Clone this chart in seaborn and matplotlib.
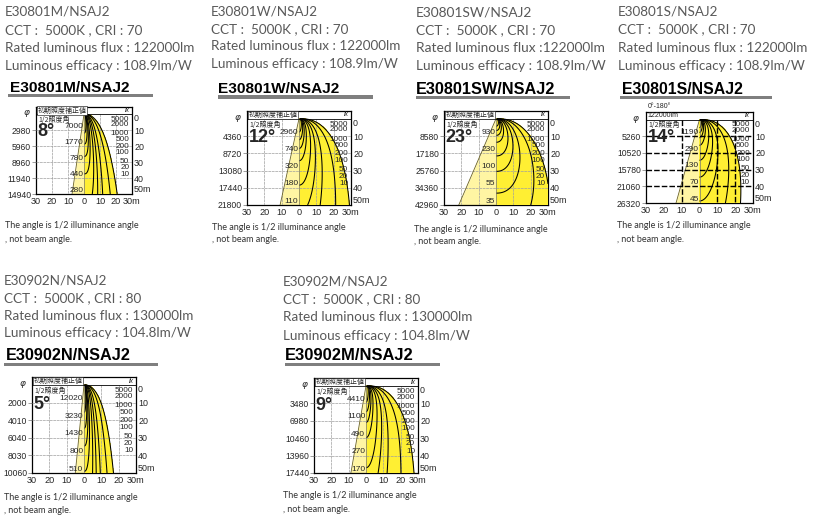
import numpy as np
import pandas as pd
import seaborn as sns
import matplotlib
matplotlib.use("Agg")
import matplotlib.pyplot as plt

# ---------------- data ----------------
models = ["E30801M/NSAJ2", "E30801W/NSAJ2", "E30801SW/NSAJ2",
          "E30801S/NSAJ2", "E30902N/NSAJ2", "E30902M/NSAJ2"]
cct_lines = ["CCT :  5000K , CRI : 70"] * 4 + ["CCT :  5000K , CRI : 80"] * 2
flux_lines = ["Rated luminous flux : 122000lm", "Rated luminous flux : 122000lm",
              "Rated luminous flux :122000lm", "Rated luminous flux : 122000lm",
              "Rated luminous flux : 130000lm", "Rated luminous flux : 130000lm"]
efficacy_lines = ["Luminous efficacy : 108.9lm/W"] * 4 + ["Luminous efficacy : 104.8lm/W"] * 2
note_lines = ["The angle is 1/2 illuminance angle", ", not beam angle."]

half_angles = [8, 12, 23, 14, 5, 9]            # 1/2 illuminance angle (deg)
depths = [10, 20, 30, 40, 50]                   # m
diam_801M = [2980, 5960, 8960, 11940, 14940]    # mm
diam_801W = [4360, 8720, 13080, 17440, 21800]
diam_801SW = [8580, 17180, 25760, 34360, 42960]
diam_801S = [5260, 10520, 15780, 21060, 26320]
diam_902N = [2000, 4010, 6040, 8030, 10060]
diam_902M = [3480, 6980, 10460, 13960, 17440]
center_801M = [7000, 1770, 780, 440, 280]       # lx on axis
center_801W = [2960, 740, 320, 180, 110]
center_801SW = [930, 230, 100, 55, 35]
center_801S = [1190, 290, 130, 70, 45]
center_902N = [12020, 3230, 1430, 800, 510]
center_902M = [4410, 1100, 490, 270, 170]
lux_levels = [5000, 2000, 1000, 500, 200, 100, 50, 20, 10]
beam_falloff = [3.0, 2.2, 2.6, 2.0, 2.8, 2.1]   # estimated sharpness of beam edge
header_texts = ["初期照度補正値"] * 3 + ["122000lm"] + ["初期照度補正値"] * 2
x_ticks = [-30, -20, -10, 0, 10, 20, 30]
x_ticklabels = ["30", "20", "10", "0", "10", "20", "30m"]
right_ticks = [0, 10, 20, 30, 40, 50]
right_ticklabels = ["0", "10", "20", "30", "40", "50m"]

diams = [diam_801M, diam_801W, diam_801SW, diam_801S, diam_902N, diam_902M]
centers = [center_801M, center_801W, center_801SW, center_801S, center_902N, center_902M]

# ---------------- style ----------------
sns.set_theme(style="white")
plt.rcParams["font.family"] = ["Lato", "DejaVu Sans"]
CJK = ["Noto Sans CJK JP", "DejaVu Sans"]
NUM = ["Liberation Sans", "DejaVu Sans"]

BRIGHT = "#FFEF33"
PALE = "#FFF5A3"
TXT_GRAY = "#595959"
GRID = "#A0A0A0"

W, H = 815, 531
fig = plt.figure(figsize=(W / 100, H / 100), dpi=100)
fig.patch.set_facecolor("white")
renderer = fig.canvas.get_renderer()


def fbox(l, t, r, b):
    return [l / W, 1 - b / H, (r - l) / W, (b - t) / H]


def fitted_size(s, width, size0=9, **kw):
    t = fig.text(0, 0, s, fontsize=size0, **kw)
    bbw = t.get_window_extent(renderer).width
    t.remove()
    return size0 * width / bbw


# layout per panel (pixels)
text_x = [5, 211, 416, 618, 4, 283]
text_base = [[16, 34, 52, 69.5], [15, 33, 50.5, 68.5], [16.5, 34.5, 52.5, 70],
             [16, 33.5, 51.5, 69.5], [284.5, 302, 319.5, 337], [286, 303.5, 321, 339.5]]
head_x = [10, 218, 416, 622, 6, 285]
head_base = [92, 93, 94, 94.5, 359.5, 360.5]
head_w = [120, 121, 139, 121, 124, 128]
bar = [(8, 153, 95.5), (218, 373, 97), (416, 570, 97.5), (620, 772, 97.5),
       (4, 158, 364.5), (285, 440, 364.5)]
note_x = [5, 212, 414, 617, 4, 283]
note_base = [228.5, 229.5, 231.5, 228.5, 500, 498.5]
boxes = [(36, 107, 132, 194), (247, 111, 351, 205), (444, 111, 548, 205),
         (646, 112, 753, 203), (32, 377, 136, 473), (314, 378, 418, 473)]
lx_label_y = [3.1, 6.5, 11.9, 15.6, 20.4, 24.2, 29.4, 33.3, 37.5]

for i in range(6):
    # ---- spec text ----
    lines = [models[i], cct_lines[i], flux_lines[i], efficacy_lines[i]]
    fs = fitted_size(flux_lines[i], 190)
    for s, yb in zip(lines, text_base[i]):
        fig.text(text_x[i] / W, 1 - yb / H, s, fontsize=fs, va="baseline",
                 color=TXT_GRAY)
    hfs = fitted_size(models[i], head_w[i], 10, family=["Liberation Sans"], weight="bold")
    fig.text(head_x[i] / W, 1 - head_base[i] / H, models[i], fontsize=hfs,
             family=["Liberation Sans"], weight="bold", color="black", va="baseline")
    x0, x1, yb = bar[i]
    fig.patches.append(plt.Rectangle((x0 / W, 1 - (yb + 1.6) / H), (x1 - x0) / W, 3.2 / H,
                                     transform=fig.transFigure, color="#7F7F7F", lw=0))
    nfs = fitted_size(note_lines[0], 134, 7)
    fig.text(note_x[i] / W, 1 - note_base[i] / H, note_lines[0], fontsize=nfs,
             va="baseline", color="#333333")
    fig.text(note_x[i] / W, 1 - (note_base[i] + 13) / H, note_lines[1], fontsize=nfs,
             va="baseline", color="#333333")

    # ---- chart ----
    ax = fig.add_axes(fbox(*boxes[i]))
    ax.set_xlim(-30, 30)
    ax.set_ylim(50, -4.5)
    ax.set_facecolor("white")
    for sp in ax.spines.values():
        sp.set_color("black")
        sp.set_linewidth(0.9)
        sp.set_visible(True)

    bold_grid = header_texts[i] != "初期照度補正値"

    diam = diams[i]
    rad = np.array([0.0] + [d / 2000.0 for d in diam])
    dep = np.array([0.0] + depths, dtype=float)
    ax.fill_betweenx(dep, -rad, 0, color=PALE, lw=0, zorder=2)

    # isolux field from axial illuminance and 1/2 illuminance angle
    xs = np.linspace(0, 30, 301)
    ys = np.linspace(0.02, 50, 501)
    X, Y = np.meshgrid(xs, ys)
    th = np.degrees(np.arctan2(X, Y))
    th_h = half_angles[i]
    p = beam_falloff[i]
    c3h = np.cos(np.radians(th_h)) ** 3
    a = th_h / (2 * c3h - 1) ** (1 / p)
    G = 1.0 / (1.0 + (th / a) ** p)
    E = centers[i][0] * (depths[0] / Y) ** 2 * np.cos(np.radians(th)) ** 3 * G
    ax.contourf(X, Y, E, levels=[min(lux_levels), E.max() * 2], colors=[BRIGHT], zorder=3)

    if bold_grid:
        ax.hlines(depths[:-1], -30, 30, colors="black", linestyles=(0, (4, 1.5)), lw=1.0, zorder=5)
        ax.vlines([-10, 10, 20], 0, 50, colors="black", linestyles=(0, (4, 1.5)), lw=1.0, zorder=5)
    else:
        ax.hlines(depths[:-1], -30, 30, colors=GRID, linestyles=(0, (4, 1)), lw=0.5, zorder=3.5)
        ax.vlines([-20, -10, 10, 20], 0, 50, colors=GRID, linestyles=(0, (4, 1)), lw=0.5, zorder=3.5)

    ax.contour(X, Y, E, levels=sorted(lux_levels), colors="black", linewidths=0.75, zorder=4)
    sns.lineplot(x=-rad, y=dep, sort=False, color="#6b6220", lw=0.6, ax=ax,
                 legend=False, zorder=4)
    ax.vlines(0, 0, 50, colors="#777777", lw=0.5, zorder=4)

    # header strip
    ax.axhline(0, color="black", lw=0.6, zorder=6)
    if bold_grid:
        ax.text(-29, -2.2, header_texts[i], fontsize=5, family=NUM, va="center",
                ha="left", zorder=7)
        ax.text(-29, -7.5, "0°-180°", fontsize=5, family=NUM, va="center",
                ha="left", clip_on=False)
    else:
        ax.text(-29, -2.2, header_texts[i], fontsize=5.0, family=CJK, va="center",
                ha="left", zorder=7,
                bbox=dict(boxstyle="square,pad=0.05", fc="white", ec="black", lw=0.4))
    ax.text(28.5, -2.2, "lx", fontsize=5, family=NUM, style="italic",
            va="center", ha="right", zorder=7)
    ax.text(-28.5, 3.4, "1/2照度角", fontsize=5.0, family=CJK, va="center", ha="left", zorder=7)
    ax.text(-29, 11, f"{half_angles[i]}°", fontsize=13, family=["Liberation Sans"],
            weight="bold", va="center", ha="left", zorder=7)
    ax.text(-34, -0.8, "φ", fontsize=6.5, style="italic", family=["DejaVu Sans"],
            va="center", ha="right", clip_on=False)

    for y, v in zip(depths, centers[i]):
        ax.text(-0.4, y - 0.2, str(v), fontsize=6.0, family=NUM, ha="right",
                va="bottom", zorder=7)
    for lev, yl in zip(lux_levels, lx_label_y):
        ax.text(28.3, yl, str(lev), fontsize=5.9, family=NUM, ha="right",
                va="center", zorder=7)

    ax.set_xticks(x_ticks)
    ax.set_xticklabels(x_ticklabels, family=NUM, fontsize=6.6)
    ax.set_yticks(depths)
    ax.set_yticklabels([str(d) for d in diam], family=NUM, fontsize=6.2)
    ax.tick_params(axis="x", length=0, pad=2.2)
    ax.tick_params(axis="y", length=3, width=0.5, color="#777777", pad=0.5, left=True)
    sec = ax.secondary_yaxis("right")
    sec.set_yticks(right_ticks)
    sec.set_yticklabels(right_ticklabels, family=NUM, fontsize=6.4)
    sec.tick_params(length=0, pad=1.5)
    sec.spines["right"].set_visible(False)
    labs = sec.get_yticklabels()
    labs[-1].set_va("bottom")
    labs[0].set_va("top")
    ax.set_xlabel("")
    ax.set_ylabel("")

fig.savefig("out.png", dpi=100, facecolor="white")
